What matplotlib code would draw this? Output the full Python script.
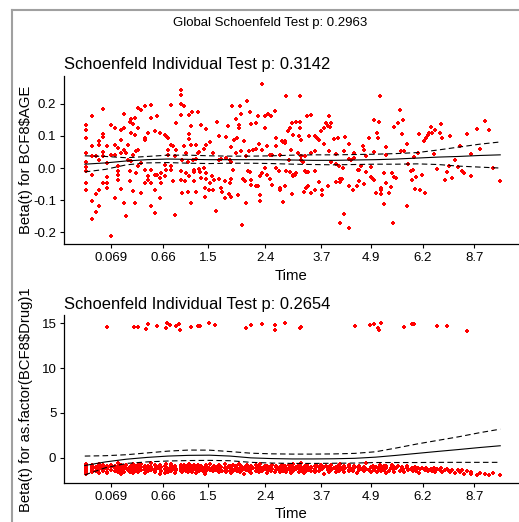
import matplotlib.pyplot as plt
from matplotlib.lines import Line2D

plt.rcParams['font.family'] = ['Liberation Sans', 'DejaVu Sans']

# transformed (KM) event time, scaled Schoenfeld residual for BCF8$AGE
age_points = [
    (0.002, 0.133), (0.002, 0.117), (0.002, 0.093), (0.002, 0.047), (0.002, 0.018), (0.002, 0.002),
    (0.002, -0.008), (0.002, -0.047), (0.002, -0.069),
    (0.018, 0.161), (0.018, 0.067), (0.018, 0.038), (0.018, -0.023), (0.018, -0.103), (0.018, -0.159),
    (0.026, 0.036), (0.026, -0.080), (0.026, -0.135),
    (0.034, 0.083), (0.034, 0.072), (0.034, 0.024), (0.034, -0.069), (0.034, -0.119),
    (0.045, 0.184), (0.045, 0.107), (0.045, 0.096), (0.045, 0.049), (0.045, 0.036), (0.045, -0.047),
    (0.054, 0.069), (0.054, 0.016), (0.054, -0.029), (0.054, -0.047), (0.054, -0.062),
    (0.064, 0.135), (0.064, 0.041), (0.064, -0.212),
    (0.072, 0.124), (0.072, 0.072), (0.072, 0.041), (0.072, -0.093),
    (0.080, 0.062), (0.080, 0.005), (0.080, -0.010), (0.080, -0.021), (0.080, -0.036),
    (0.087, 0.117), (0.087, 0.088), (0.087, 0.047), (0.087, -0.065),
    (0.094, 0.169), (0.094, 0.124), (0.094, 0.057), (0.094, -0.109),
    (0.100, 0.047), (0.100, -0.150), (0.104, 0.072), (0.104, 0.026),
    (0.108, 0.142), (0.108, -0.010), (0.108, -0.041),
    (0.112, 0.152), (0.112, 0.109), (0.112, 0.023),
    (0.116, 0.138), (0.116, 0.041), (0.116, -0.072),
    (0.120, 0.156), (0.120, 0.104), (0.120, -0.109),
    (0.124, 0.052), (0.124, -0.016),
    (0.128, 0.187), (0.128, 0.124), (0.128, 0.057), (0.128, 0.005),
    (0.136, 0.181), (0.136, 0.016), (0.136, -0.078),
    (0.144, 0.194), (0.144, 0.093), (0.144, 0.088), (0.144, -0.005), (0.144, -0.047),
    (0.152, 0.109), (0.152, -0.026), (0.152, -0.036),
    (0.160, 0.197), (0.160, 0.156), (0.160, -0.005), (0.160, -0.047), (0.160, -0.119),
    (0.168, 0.114), (0.168, -0.021), (0.168, -0.067), (0.168, -0.140),
    (0.175, 0.161), (0.175, -0.021),
    (0.180, 0.109), (0.180, -0.031), (0.180, -0.093),
    (0.184, -0.016), (0.184, -0.047),
    (0.192, 0.104), (0.192, 0.010), (0.192, -0.026),
    (0.196, 0.100), (0.196, -0.005),
    (0.200, 0.093), (0.200, 0.057), (0.200, 0.041),
    (0.208, 0.197), (0.208, 0.072), (0.208, 0.005), (0.208, -0.005),
    (0.212, 0.067), (0.212, -0.041), (0.216, 0.036), (0.216, -0.145),
    (0.220, 0.140), (0.220, 0.057),
    (0.232, 0.242), (0.231, 0.226), (0.232, 0.200), (0.238, 0.194), (0.231, 0.166), (0.250, 0.166),
    (0.258, 0.173), (0.272, 0.173), (0.256, 0.130), (0.251, 0.107), (0.251, 0.090), (0.240, 0.069),
    (0.256, 0.073), (0.267, 0.071), (0.272, 0.047), (0.243, 0.047), (0.235, 0.024), (0.248, 0.018),
    (0.260, 0.024), (0.267, 0.028), (0.232, -0.010), (0.243, -0.016), (0.251, -0.024), (0.264, -0.005),
    (0.264, -0.013), (0.276, -0.003), (0.278, -0.013), (0.232, -0.038), (0.242, -0.041), (0.262, -0.041),
    (0.279, -0.031), (0.288, 0.000), (0.291, -0.016), (0.292, -0.034), (0.280, 0.135), (0.292, 0.122),
    (0.318, 0.142), (0.323, 0.100), (0.339, 0.096), (0.345, 0.130), (0.353, 0.065), (0.355, 0.194),
    (0.359, 0.086), (0.367, 0.093), (0.365, 0.152), (0.371, 0.135), (0.371, 0.124), (0.374, 0.194),
    (0.377, 0.169), (0.383, 0.083), (0.390, 0.207), (0.398, 0.173), (0.401, 0.137), (0.411, 0.140),
    (0.417, 0.161), (0.427, 0.262), (0.433, 0.124), (0.435, 0.161), (0.442, 0.169), (0.449, 0.161),
    (0.458, 0.176), (0.461, 0.093), (0.485, 0.223), (0.475, 0.083), (0.482, 0.078), (0.490, 0.114),
    (0.494, 0.124), (0.498, 0.140), (0.501, 0.104),
    (0.235, -0.076), (0.248, -0.073), (0.268, -0.073), (0.256, -0.107), (0.290, -0.090), (0.290, -0.062),
    (0.300, -0.067), (0.308, -0.067), (0.302, -0.047), (0.310, -0.036), (0.307, -0.024), (0.315, -0.132),
    (0.323, -0.034), (0.329, -0.062), (0.331, -0.073), (0.337, -0.093), (0.338, -0.041), (0.349, -0.047),
    (0.351, -0.090), (0.347, -0.080), (0.353, -0.034), (0.357, -0.005), (0.369, -0.083), (0.381, -0.034),
    (0.385, -0.041), (0.388, -0.107), (0.393, -0.008), (0.397, -0.013), (0.401, -0.052), (0.399, -0.036),
    (0.413, -0.055), (0.417, -0.057), (0.421, -0.083), (0.421, -0.103), (0.421, -0.026), (0.427, -0.016),
    (0.433, 0.000), (0.438, -0.021), (0.445, -0.034), (0.451, -0.052), (0.461, 0.000), (0.467, -0.010),
    (0.469, -0.062), (0.470, -0.069), (0.478, -0.104), (0.483, -0.055), (0.485, -0.010), (0.493, -0.013),
    (0.498, -0.080), (0.502, -0.026), (0.379, -0.176),
    (0.276, 0.049), (0.286, 0.059), (0.292, 0.073), (0.302, 0.080), (0.308, 0.047), (0.323, 0.024),
    (0.329, 0.028), (0.339, 0.031), (0.349, 0.026), (0.353, 0.018), (0.365, 0.047), (0.377, 0.052),
    (0.389, 0.036), (0.395, 0.052), (0.405, 0.055), (0.413, 0.059), (0.419, 0.076), (0.427, 0.057),
    (0.439, 0.067), (0.445, 0.041), (0.451, 0.041), (0.461, 0.067), (0.470, 0.041), (0.477, 0.080),
    (0.483, 0.083), (0.491, 0.024), (0.497, 0.055), (0.501, -0.021),
    (0.519, 0.223), (0.509, 0.142), (0.517, 0.142), (0.517, 0.124), (0.515, 0.100), (0.521, 0.088),
    (0.535, 0.161), (0.545, 0.166), (0.539, 0.098), (0.553, 0.098), (0.559, 0.093), (0.563, 0.088),
    (0.569, 0.114), (0.575, 0.124), (0.581, 0.140), (0.589, 0.161), (0.585, 0.132), (0.593, 0.140),
    (0.591, 0.128), (0.575, 0.076), (0.599, 0.090), (0.609, 0.093), (0.627, 0.096), (0.637, 0.076),
    (0.669, 0.069), (0.673, 0.057), (0.683, 0.093), (0.695, 0.150), (0.704, 0.109), (0.705, 0.093),
    (0.708, 0.142), (0.710, 0.223), (0.725, 0.065), (0.745, 0.128), (0.753, 0.140), (0.759, 0.181),
    (0.764, 0.107), (0.767, 0.150), (0.775, 0.076),
    (0.513, 0.047), (0.521, 0.036), (0.529, 0.038), (0.545, 0.047), (0.555, 0.052), (0.589, 0.052),
    (0.605, 0.044), (0.625, 0.052), (0.649, 0.047), (0.677, 0.038), (0.697, 0.049), (0.725, 0.041),
    (0.761, 0.052), (0.769, 0.052), (0.779, 0.013), (0.505, -0.021), (0.509, -0.016), (0.521, 0.024),
    (0.525, 0.018), (0.529, -0.010), (0.533, -0.013), (0.538, -0.012), (0.553, -0.010), (0.593, 0.018),
    (0.605, 0.013), (0.613, 0.007), (0.621, 0.000), (0.637, 0.028), (0.641, 0.024), (0.647, 0.031),
    (0.665, 0.005), (0.661, -0.005), (0.657, -0.006), (0.677, -0.013), (0.689, 0.002), (0.688, -0.028),
    (0.527, -0.073), (0.533, -0.062), (0.538, -0.057), (0.545, -0.076), (0.553, -0.069), (0.563, -0.044),
    (0.570, -0.069), (0.571, -0.083), (0.585, -0.057), (0.605, -0.043), (0.615, -0.034), (0.619, -0.034),
    (0.615, -0.044), (0.637, -0.057), (0.645, -0.069), (0.655, -0.057), (0.659, -0.041), (0.671, -0.050),
    (0.693, -0.034), (0.697, -0.038), (0.700, -0.076), (0.712, -0.062), (0.713, -0.069), (0.713, -0.080),
    (0.720, -0.016), (0.725, -0.045), (0.733, -0.076), (0.736, -0.060), (0.739, -0.016), (0.745, -0.028),
    (0.749, -0.031), (0.720, -0.111), (0.775, -0.119), (0.625, -0.143), (0.615, -0.169), (0.635, -0.187),
    (0.741, -0.171),
    (0.805, 0.107), (0.816, 0.083), (0.821, 0.093), (0.825, 0.104), (0.828, 0.109), (0.833, 0.128),
    (0.836, 0.109), (0.844, 0.117), (0.855, 0.109), (0.857, 0.137), (0.861, 0.093), (0.880, 0.098),
    (0.921, 0.107), (0.945, 0.121), (0.963, 0.147), (0.974, 0.119), (0.952, 0.059), (0.903, 0.067),
    (0.929, 0.044), (0.841, 0.044), (0.803, 0.047), (0.793, 0.033), (0.891, 0.024), (0.785, -0.010),
    (0.789, -0.005), (0.811, -0.021), (0.849, -0.003), (0.873, -0.012), (0.876, 0.005), (0.899, 0.003),
    (0.908, -0.010), (0.913, -0.016), (0.929, -0.024), (0.885, -0.031), (0.868, -0.036), (0.788, -0.036),
    (0.797, -0.028), (0.795, -0.064), (0.808, -0.069), (0.818, -0.076), (0.983, 0.000), (0.999, -0.039),
]

# residuals for as.factor(BCF8$Drug)1, low group (same event times, ordered by time)
drug_band = [
    -1.12, -0.85, -1.41, -1.63, -0.94, -1.21, -1.02, -1.33, -0.72, -1.52, -1.15, -1.78, -0.91, -1.24, -1.06, -1.37, -0.63, -1.27, -1.46, -1.01,
    -1.18, -0.79, -1.31, -1.55, -0.98, -1.09, -1.44, -0.87, -1.22, -1.66, -1.04, -0.69, -1.35, -1.13, -0.93, -1.49, -1.26, -0.81, -1.58, -1.07,
    -0.96, -1.29, -1.71, -1.03, -0.76, -1.39, -1.17, -0.89, -1.47, -1.11, -0.58, -1.32, -1.61, -0.99, -1.23, -1.42, -0.83, -1.14, -1.84, -1.05,
    -1.26, -0.92, -1.53, -1.08, -0.74, -1.36, -1.19, -1.62, -0.97, -1.28, -0.86, -1.45, -1.01, -1.74, -1.16, -0.67, -1.38, -1.09, -1.51, -0.95,
    -1.21, -1.43, -0.82, -1.12, -1.57, -0.99, -1.31, -0.71, -1.24, -1.68, -1.06, -0.88, -1.34, -1.18, -1.49, -0.94, -1.27, -0.61, -1.11, -1.39,
    -1.02, -1.59, -0.84, -1.22, -1.36, -0.97, -1.14, -1.81, -0.78, -1.29, -1.07, -1.46, -0.91, -1.19, -1.64, -1.03, -0.73, -1.33, -1.25, -1.54,
    -0.89, -1.15, -1.41, -0.66, -1.28, -1.08, -1.72, -0.95, -1.21, -1.37, -1.01, -0.81, -1.48, -1.13, -1.26, -0.93, -1.56, -1.04, -0.77, -1.35,
    -1.17, -1.44, -0.86, -1.09, -1.61, -0.98, -1.32, -1.23, -0.69, -1.42, -1.12, -0.92, -1.53, -1.06, -1.29, -0.84, -1.19, -1.67, -1.00, -1.38,
    -0.75, -1.24, -1.11, -1.47, -0.96, -1.33, -0.88, -1.58, -1.14, -1.02, -1.76, -0.83, -1.27, -1.43, -0.97, -1.18, -0.64, -1.36, -1.08, -1.51,
    -1.25, -0.90, -1.39, -1.05, -1.62, -0.80, -1.20, -1.34, -0.99, -1.46, -1.13, -0.72, -1.30, -1.57, -1.04, -0.94, -1.41, -1.16, -1.69, -0.87,
    -1.22, -1.07, -1.52, -0.85, -1.35, -1.10, -0.96, -1.45, -1.28, -0.70, -1.19, -1.60, -1.03, -0.91, -1.37, -1.15, -1.79, -0.98, -1.26, -1.40,
    -0.82, -1.14, -1.50, -1.01, -1.32, -0.93, -1.23, -1.66, -1.08, -0.76, -1.43, -1.17, -0.89, -1.29, -1.55, -1.05, -1.36, -0.66, -1.20, -1.11,
    -1.47, -0.95, -1.27, -1.09, -1.73, -0.86, -1.33, -1.16, -0.99, -1.42, -1.24, -0.74, -1.57, -1.02, -1.30, -0.90, -1.18, -1.63, -1.06, -1.38,
    -0.79, -1.21, -1.49, -1.00, -1.35, -0.93, -1.12, -1.59, -1.26, -0.84, -1.40, -1.07, -1.70, -0.97, -1.31, -1.15, -0.68, -1.44, -1.19, -1.03,
    -1.28, -0.88, -1.54, -1.10, -1.37, -0.96, -1.22, -0.62, -1.45, -1.13, -1.65, -0.92, -1.30, -1.04, -1.50, -0.81, -1.25, -1.17, -1.39, -0.99,
    -1.11, -1.46, -0.87, -1.34, -1.20, -1.58, -0.94, -1.06, -1.41, -0.75, -1.27, -1.14, -1.83, -1.01, -0.90, -1.36, -1.23, -0.97, -1.52, -1.09,
    -1.32, -0.83, -1.18, -1.61, -1.04, -1.29, -0.95, -1.43, -1.12, -0.71, -1.38, -1.24, -1.00, -1.56, -0.89, -1.16, -1.47, -1.07, -0.78, -1.33,
    -1.21, -1.50, -0.92, -1.14, -1.68, -1.02, -1.35, -0.86, -1.26, -1.10, -1.44, -0.97, -1.19, -0.60, -1.31, -1.55, -1.05, -0.93, -1.40, -1.15,
    -1.27, -0.99, -1.62, -1.08, -1.36, -0.85, -1.23, -1.48, -1.03, -0.91, -1.30, -1.17, -1.74, -0.96, -1.42, -1.11, -0.80, -1.25, -1.53, -1.06,
    -1.18, -0.90, -1.45, -1.32, -1.01, -1.24, -1.60, -1.13, -0.95, -1.37, -1.20, -1.09, -1.50, -1.28, -1.04, -1.41, -1.16, -1.70, -1.26, -1.12,
    -1.22, -1.35, -1.15, -1.48, -1.30, -1.20, -1.42, -1.10, -1.55, -1.27, -1.38, -1.18, -1.62, -1.33, -1.25, -1.45, -1.52, -1.30, -1.68, -1.40,
    -1.58, -1.36, -1.75, -1.48, -1.84, -1.62, -1.90, -1.70, -1.80, -1.95, -1.66, -1.88,
]

# residuals for as.factor(BCF8$Drug)1, high group
drug_high = [
    (0.054, 14.62), (0.119, 14.58), (0.127, 14.58), (0.147, 14.36), (0.152, 14.96), (0.173, 14.73),
    (0.196, 14.47), (0.199, 15.07), (0.204, 14.85), (0.220, 14.73), (0.228, 14.96), (0.230, 14.25),
    (0.255, 14.62), (0.272, 14.73), (0.278, 14.73), (0.299, 15.07), (0.313, 14.85), (0.389, 14.47),
    (0.401, 14.85), (0.426, 14.96), (0.459, 14.85), (0.457, 14.25), (0.482, 15.07), (0.517, 14.47),
    (0.521, 14.58), (0.651, 14.73), (0.687, 14.85), (0.697, 14.96), (0.705, 14.47), (0.709, 14.28),
    (0.713, 15.07), (0.769, 14.62), (0.788, 14.96), (0.793, 14.96), (0.849, 14.73), (0.872, 14.73),
    (0.921, 14.10),
]

# smoothed beta(t) with +-2 se bands
fit_time = [0.0, 0.05, 0.1, 0.15, 0.2, 0.25, 0.3, 0.35, 0.4, 0.45, 0.5,
            0.55, 0.6, 0.65, 0.7, 0.75, 0.8, 0.85, 0.9, 0.95, 1.0]
age_fit = [0.012, 0.016, 0.022, 0.026, 0.028, 0.027, 0.026, 0.026, 0.026, 0.026, 0.025,
           0.024, 0.024, 0.025, 0.026, 0.028, 0.031, 0.034, 0.036, 0.039, 0.041]
age_hi = [0.038, 0.036, 0.032, 0.036, 0.040, 0.040, 0.038, 0.037, 0.037, 0.038, 0.040,
          0.041, 0.041, 0.042, 0.043, 0.045, 0.048, 0.056, 0.065, 0.074, 0.081]
age_lo = [-0.012, -0.004, 0.010, 0.016, 0.017, 0.015, 0.014, 0.015, 0.015, 0.014, 0.012,
          0.011, 0.010, 0.011, 0.012, 0.012, 0.013, 0.011, 0.006, 0.003, 0.000]
drug_fit = [-0.85, -0.45, -0.15, 0.05, 0.2, 0.28, 0.3, 0.2, 0.0, -0.08, -0.12,
            -0.12, -0.1, -0.05, 0.08, 0.28, 0.5, 0.72, 0.93, 1.15, 1.35]
drug_hi = [0.2, 0.24, 0.35, 0.55, 0.75, 0.87, 0.86, 0.7, 0.52, 0.45, 0.42,
           0.42, 0.44, 0.5, 0.68, 1.1, 1.55, 1.95, 2.35, 2.8, 3.2]
drug_lo = [-1.9, -1.1, -0.62, -0.45, -0.35, -0.3, -0.28, -0.32, -0.5, -0.58, -0.62,
           -0.62, -0.6, -0.58, -0.52, -0.52, -0.52, -0.5, -0.5, -0.5, -0.5]

x_ticks = [0.063, 0.188, 0.296, 0.435, 0.569, 0.688, 0.813, 0.938]
x_labels = ["0.069", "0.66", "1.5", "2.4", "3.7", "4.9", "6.2", "8.7"]

age_ticks = [-0.2, -0.1, 0.0, 0.1, 0.2]
age_labels = ["-0.2", "-0.1", "0.0", "0.1", "0.2"]
drug_ticks = [0, 5, 10, 15]
drug_labels = ["0", "5", "10", "15"]

global_title = "Global Schoenfeld Test p: 0.2963"
age_title = "Schoenfeld Individual Test p: 0.3142"
drug_title = "Schoenfeld Individual Test p: 0.2654"

W, H = 519, 522

age_t = [p[0] for p in age_points]
age_r = [p[1] for p in age_points]
# pair band residuals with the event times, from the latest time backwards
times_sorted = sorted(age_t)
band = list(zip(reversed(times_sorted), reversed(drug_band)))
drug_t = [b[0] for b in band] + [p[0] for p in drug_high]
drug_r = [b[1] for b in band] + [p[1] for p in drug_high]

fig = plt.figure(figsize=(W / 100, H / 100), dpi=100)


def px(x, y):
    return x / W, 1 - y / H


def panel(rect, t, r, fit, hi, lo, yt, yl):
    ax = fig.add_axes(rect)
    ax.scatter(t, r, s=9, marker="P", color="#ff0000", linewidths=0, zorder=2)
    ax.plot(fit_time, fit, color="black", lw=0.8, zorder=3)
    ax.plot(fit_time, hi, color="black", lw=0.8, dashes=(5, 3), zorder=3)
    ax.plot(fit_time, lo, color="black", lw=0.8, dashes=(5, 3), zorder=3)
    ax.set_xticks(x_ticks, x_labels)
    ax.set_yticks(yt, yl)
    for s in ["top", "right"]:
        ax.spines[s].set_visible(False)
    for s in ["left", "bottom"]:
        ax.spines[s].set_linewidth(0.9)
    ax.tick_params(length=3, width=0.8, labelsize=9.5, pad=2.5, colors="black")
    return ax


panel([64 / W, (H - 244) / H, 457 / W, 168 / H], age_t, age_r, age_fit, age_hi, age_lo,
      age_ticks, age_labels)
panel([64 / W, (H - 483) / H, 457 / W, 168 / H], drug_t, drug_r, drug_fit, drug_hi, drug_lo,
      drug_ticks, drug_labels)

fig.text(*px(270, 26), global_title, ha="center", va="baseline", fontsize=9.5)
fig.text(*px(64, 68.5), age_title, ha="left", va="baseline", fontsize=11.9)
fig.text(*px(64, 308.5), drug_title, ha="left", va="baseline", fontsize=11.9)
fig.text(*px(291, 279.5), "Time", ha="center", va="baseline", fontsize=10.7)
fig.text(*px(291, 517.5), "Time", ha="center", va="baseline", fontsize=10.7)
fig.text(*px(26, 160), "Beta(t) for BCF8$AGE", rotation=90, ha="center", va="center",
         fontsize=10.7)
fig.text(*px(26, 400), "Beta(t) for as.factor(BCF8$Drug)1", rotation=90, ha="center",
         va="center", fontsize=10.7)

# grey frame of the plotting window
fig.add_artist(Line2D([12 / W, 1], [1 - 10 / H, 1 - 10 / H], transform=fig.transFigure,
                      color="#a0a0a0", lw=1.5))
fig.add_artist(Line2D([12 / W, 12 / W], [0, 1 - 10 / H], transform=fig.transFigure,
                      color="#a0a0a0", lw=1.5))

fig.savefig("out.png", dpi=100)
